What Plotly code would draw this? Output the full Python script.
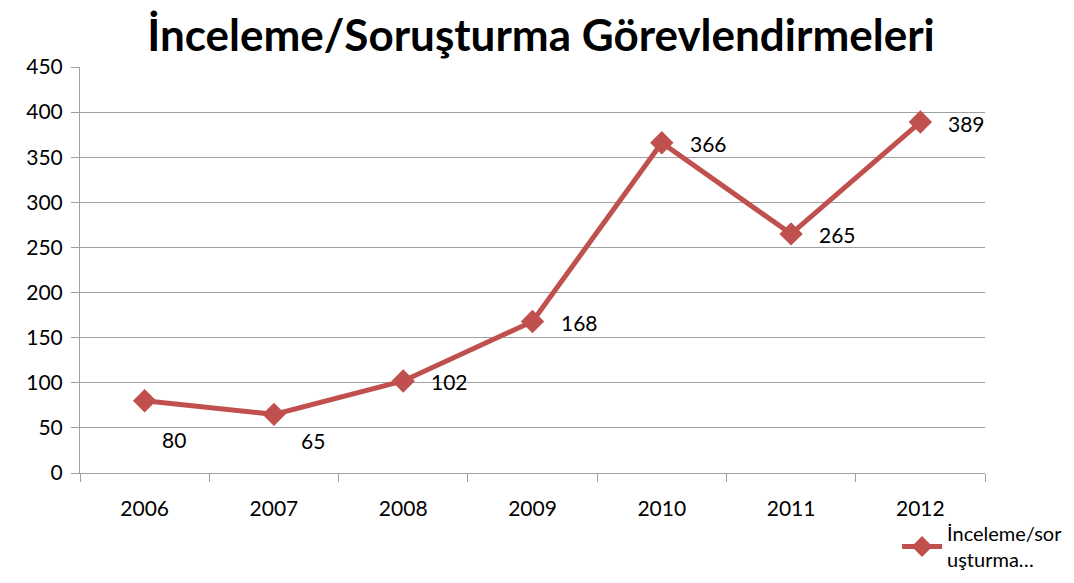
import plotly.graph_objs as go

years = ['2006', '2007', '2008', '2009', '2010', '2011', '2012']
counts = [80, 65, 102, 168, 366, 265, 389]
series_name = 'İnceleme/sor<br>uşturma…'
title = 'İnceleme/Soruşturma Görevlendirmeleri'

red = '#C0504D'
grid = '#A0A0A0'
font = 'Lato, Open Sans, sans-serif'

# label offsets (px) from each point: right of the point, first two pushed below
label_dx = [15, 25, 26, 26, 26, 26, 26]
label_dy = [-39, -26, -1, -1, -1, -1, -1]

fig = go.Figure()
fig.add_trace(go.Scatter(
    x=list(range(len(years))), y=counts, mode='lines+markers', name=series_name,
    line=dict(color=red, width=5),
    marker=dict(symbol='diamond', size=18, color=red),
))

for i, v in enumerate(counts):
    fig.add_annotation(
        x=i, y=v, text=str(v), showarrow=False,
        xanchor='left', yanchor='middle',
        xshift=label_dx[i], yshift=label_dy[i],
        font=dict(family=font, size=21, color='black'),
    )

# page has an 8px body margin, so the figure is 8px smaller than the window
fig.update_layout(
    width=1066, height=575,
    margin=dict(l=72, r=89, t=59, b=110, autoexpand=False),
    paper_bgcolor='white', plot_bgcolor='white',
    title=dict(text='<b>' + title + '</b>', x=0.5, xanchor='center',
               y=0.952, yanchor='middle',
               font=dict(family=font, size=44, color='black')),
    font=dict(family=font, size=21, color='black'),
    showlegend=True,
    legend=dict(xref='container', yref='container', x=0.834, y=0.12,
                xanchor='left', yanchor='top', tracegroupgap=0,
                bgcolor='rgba(0,0,0,0)', font=dict(size=20),
                itemwidth=40),
)
fig.update_xaxes(
    tickmode='array', tickvals=list(range(len(years))), ticktext=years,
    showgrid=False, showline=True, linecolor=grid, linewidth=1,
    ticks='', range=[-0.5, 6.5], zeroline=False, automargin=False,
    ticklabelstandoff=17,
)
# category boundary ticks on the x axis
fig.update_xaxes(minor=dict(tickmode='array', tickvals=[i - 0.5 for i in range(len(years) + 1)],
                            ticks='outside', ticklen=8, tickcolor=grid, showgrid=False))
fig.update_yaxes(
    range=[0, 450], dtick=50, showgrid=True, gridcolor=grid, gridwidth=1,
    showline=True, linecolor=grid, ticks='outside', ticklen=8, tickcolor=grid,
    zeroline=False, automargin=False, ticklabelstandoff=4,
)

fig.write_html('out.html')
